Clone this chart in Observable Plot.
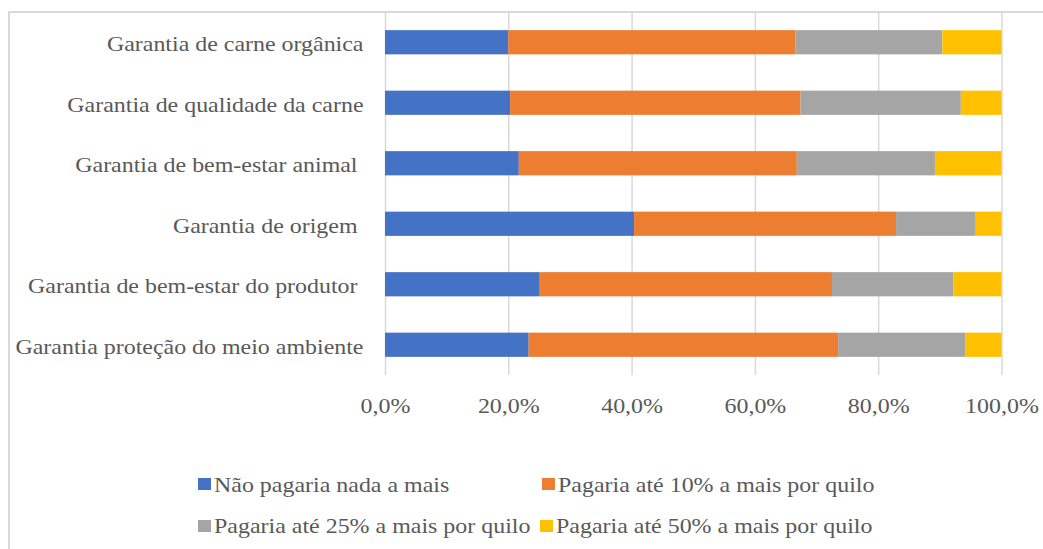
<!DOCTYPE html>
<html>
<head>
<meta charset="utf-8">
<script src="https://cdn.jsdelivr.net/npm/d3@7"></script>
<script src="https://cdn.jsdelivr.net/npm/@observablehq/plot@0.6"></script>
<style>
  body { margin: 0; background: #fff; }
  #wrap { position: relative; width: 1043px; height: 549px; overflow: hidden; font-family: "Liberation Serif", "Times New Roman", serif; }
  #frame { position: absolute; left: 8px; top: 11px; width: 1200px; height: 700px; border-left: 2px solid #d9d9d9; border-top: 2px solid #d9d9d9; }
  #chart { position: absolute; left: 0; top: 0; }
  .sw { position: absolute; width: 13px; height: 12px; }
  .tx { position: absolute; font-size: 21px; line-height: 21px; color: #595959; white-space: pre; transform: scaleX(1.14); transform-origin: left center; }
</style>
</head>
<body>
<div id="wrap">
  <div id="frame"></div>
  <div id="chart"></div>
</div>
<script>
// ---- data ----
const categories = [
  "Garantia de carne orgânica",
  "Garantia de qualidade da carne",
  "Garantia de bem-estar animal ",
  "Garantia de origem ",
  "Garantia de bem-estar do produtor ",
  "Garantia proteção do meio ambiente"
];
const seriesNames = [
  "Não pagaria nada a mais",
  "Pagaria até 10% a mais por quilo",
  "Pagaria até 25% a mais por quilo",
  "Pagaria até 50% a mais por quilo"
];
const naoPagaria = [20.0, 20.3, 21.7, 40.4, 25.1, 23.3];
const ate10 = [46.6, 47.1, 45.1, 42.5, 47.4, 50.2];
const ate25 = [23.8, 26.0, 22.4, 12.8, 19.7, 20.6];
const ate50 = [9.6, 6.6, 10.8, 4.3, 7.8, 5.9];
const xTicks = [0, 20, 40, 60, 80, 100];
const xTickLabels = ["0,0%", "20,0%", "40,0%", "60,0%", "80,0%", "100,0%"];

// ---- styles ----
const colors = ["#4472C4", "#ED7D31", "#A5A5A5", "#FFC000"];
const textColor = "#595959";

const seriesValues = [naoPagaria, ate10, ate25, ate50];
const rows = [];
seriesValues.forEach((vals, s) => {
  vals.forEach((v, i) => rows.push({category: categories[i], series: seriesNames[s], value: v}));
});

const chart = Plot.plot({
  width: 1043,
  height: 440,
  marginLeft: 385,
  marginRight: 41.5,
  marginTop: 12,
  marginBottom: 65,
  style: {fontFamily: '"Liberation Serif", "Times New Roman", serif', fontSize: "21px", color: textColor, background: "transparent"},
  x: {domain: [0, 100], axis: null},
  y: {domain: categories, paddingInner: 0.6, paddingOuter: 0.3, round: false, axis: null},
  color: {domain: seriesNames, range: colors},
  marks: [
    Plot.gridX(xTicks, {stroke: "#d9d9d9", strokeOpacity: 1, strokeWidth: 1.5}),
    Plot.barX(rows, Plot.stackX({x: "value", y: "category", fill: "series", order: null})),
    Plot.axisX(xTicks, {
      tickSize: 0, tickPadding: 23, fontSize: 21, fill: textColor,
      tickFormat: d => xTickLabels[xTicks.indexOf(d)], label: null
    }),
    Plot.axisY({tickSize: 0, tickPadding: 22, fontSize: 21, fill: textColor, dy: 2, label: null})
  ]
});
document.getElementById("chart").appendChild(chart);

// stretch text horizontally like the reference (keeps anchor point fixed)
d3.select(chart).selectAll("g[aria-label$='tick label'] text").each(function() {
  this.style.whiteSpace = "pre";
  const t = this.getAttribute("transform");
  if (t) {
    this.setAttribute("transform", t + " scale(1.14,1)");
  } else {
    const x = this.getAttribute("x") || 0, y = this.getAttribute("y") || 0;
    this.setAttribute("transform", `translate(${x},${y}) scale(1.14,1)`);
    this.removeAttribute("x"); this.removeAttribute("y");
  }
});

// ---- legend ----
const legendLayout = [
  {sx: 198, sy: 478, tx: 214, ty: 474.5},
  {sx: 542, sy: 478, tx: 558, ty: 474.5},
  {sx: 198, sy: 520, tx: 214, ty: 515.5},
  {sx: 540, sy: 520, tx: 556, ty: 515.5}
];
const wrap = document.getElementById("wrap");
seriesNames.forEach((name, i) => {
  const L = legendLayout[i];
  const sw = document.createElement("div");
  sw.className = "sw";
  sw.style.left = L.sx + "px"; sw.style.top = L.sy + "px"; sw.style.background = colors[i];
  wrap.appendChild(sw);
  const tx = document.createElement("div");
  tx.className = "tx";
  tx.style.left = L.tx + "px"; tx.style.top = L.ty + "px";
  tx.textContent = name;
  wrap.appendChild(tx);
});
</script>
</body>
</html>
